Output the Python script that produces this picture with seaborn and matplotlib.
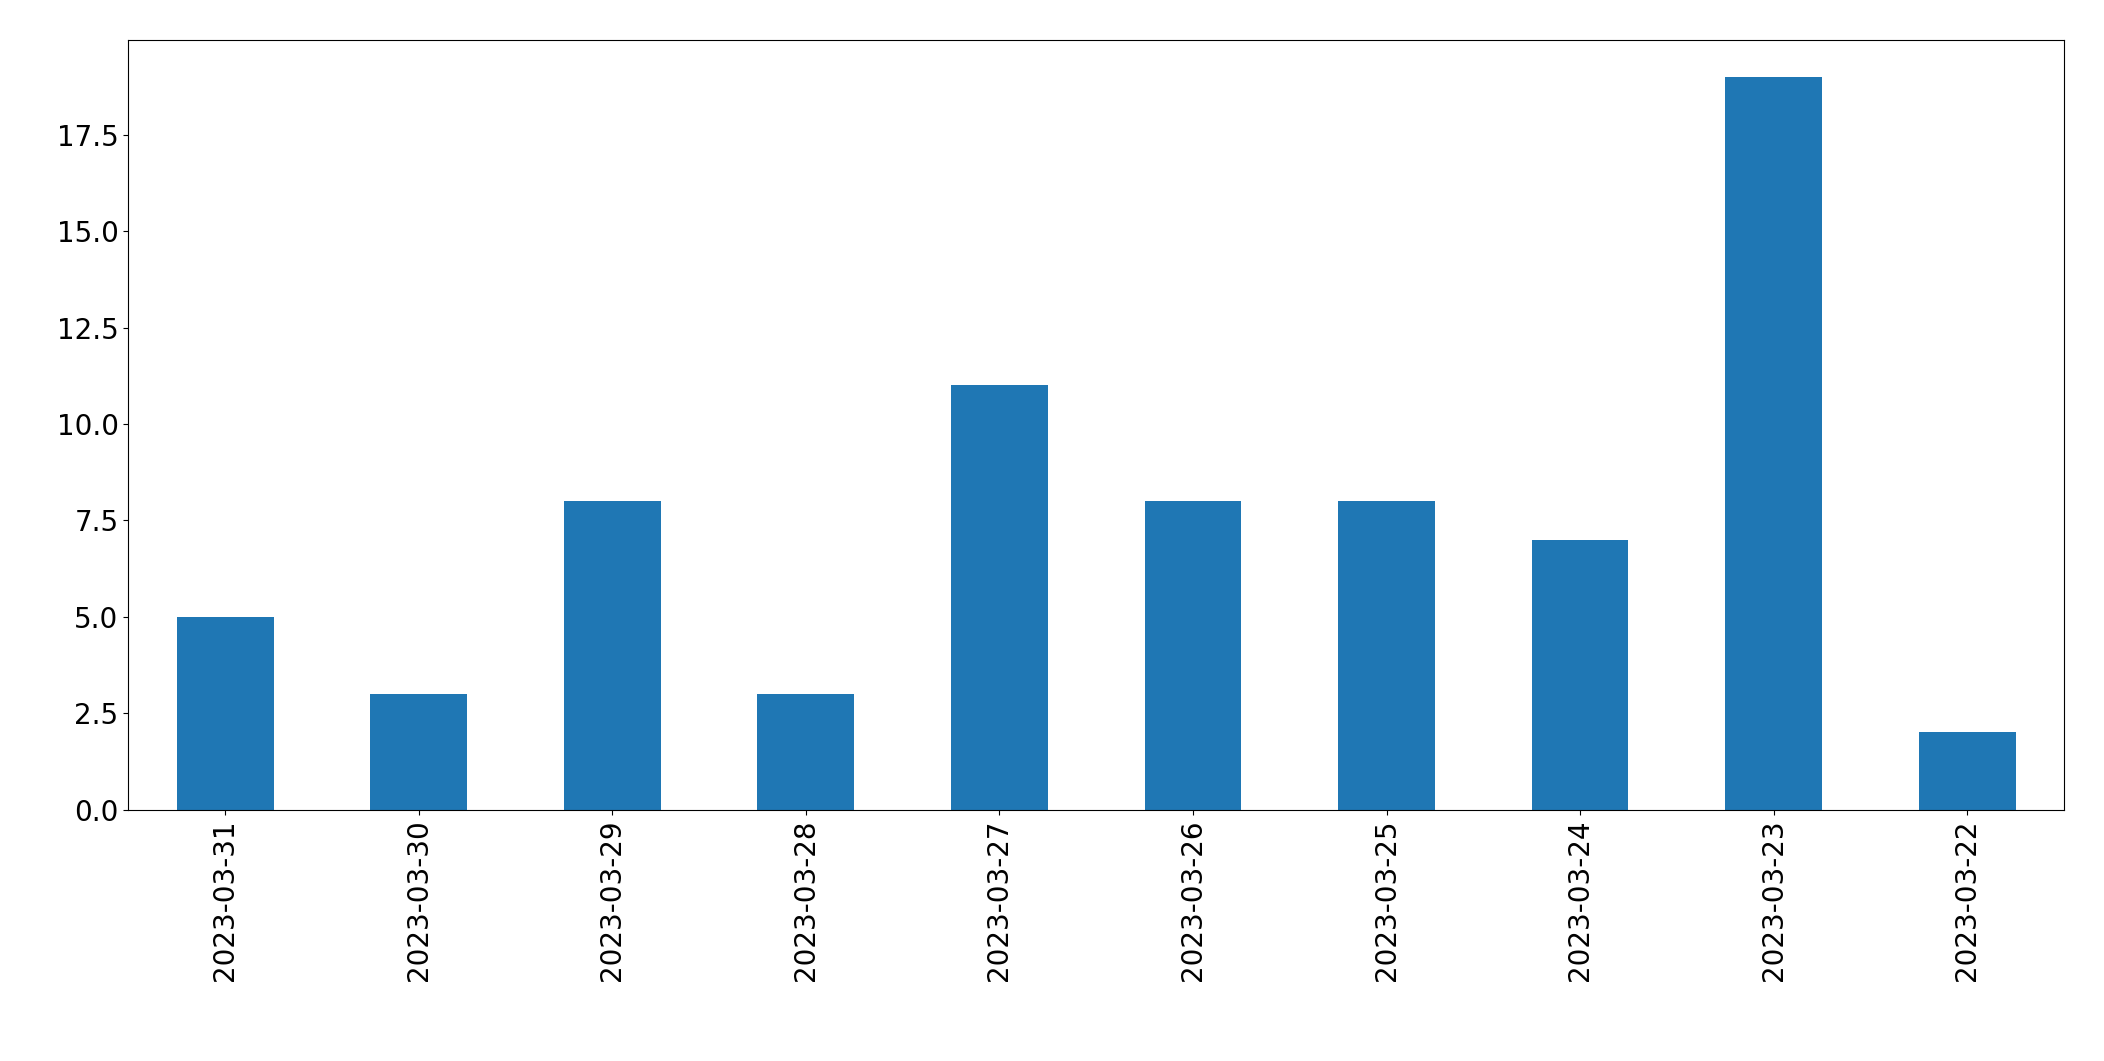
import pandas as pd
import seaborn as sns
from matplotlib import pyplot as plt

dates = ['2023-03-31', '2023-03-30', '2023-03-29', '2023-03-28', '2023-03-27',
         '2023-03-26', '2023-03-25', '2023-03-24', '2023-03-23', '2023-03-22']
counts = [5, 3, 8, 3, 11, 8, 8, 7, 19, 2]

def main():
    data = pd.DataFrame({'date': dates, 'count': counts})
    fig = plt.figure(figsize=(21.04, 10.61), dpi=100)
    ax = fig.add_axes([0.061, 0.237, 0.92, 0.725])
    sns.barplot(data=data, x='date', y='count', order=dates,
                color='#1f77b4', saturation=1, width=0.5, ax=ax)
    ax.set(xlabel='', ylabel='')
    ax.set_xlim(-0.5, len(dates) - 0.5)
    ax.set_ylim(0, 19.95)
    ax.tick_params(axis='both', labelsize=20)
    plt.xticks(rotation=90)
    plt.savefig('out.png')
    plt.close()

if __name__ == '__main__':
    main()
